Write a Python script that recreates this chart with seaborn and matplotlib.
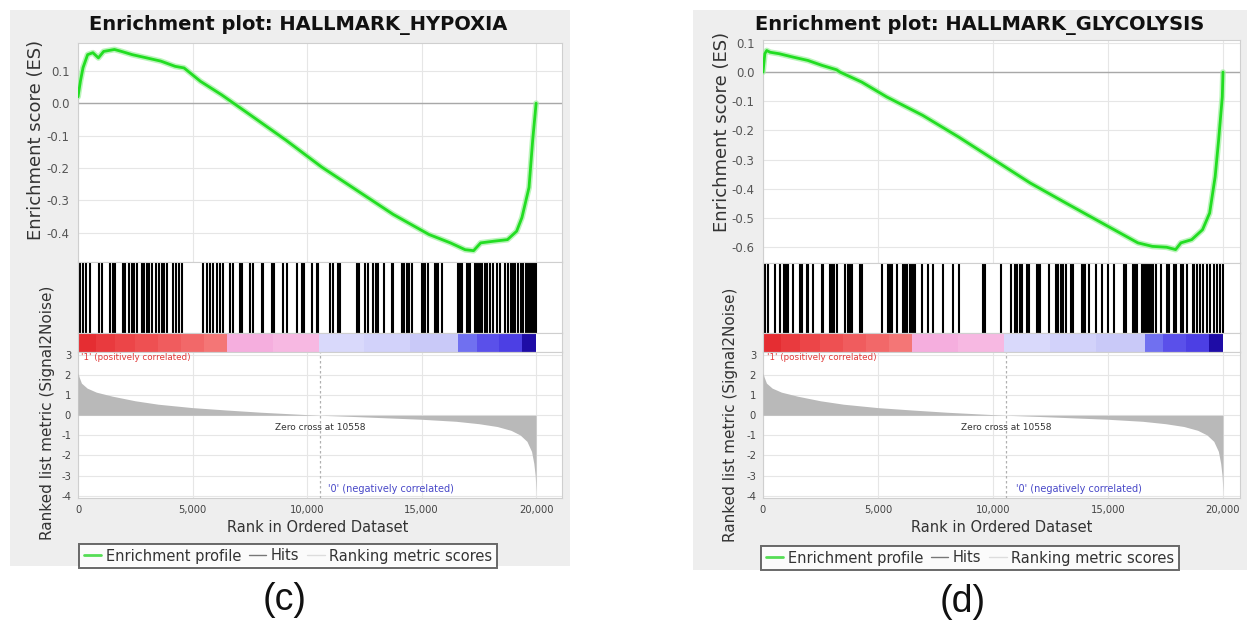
import numpy as np
import pandas as pd
import matplotlib
matplotlib.use("Agg")
import matplotlib.pyplot as plt
import seaborn as sns
from matplotlib.colors import ListedColormap
from matplotlib.lines import Line2D
from matplotlib.patches import Rectangle

# ---------------- data ----------------
titles = ["Enrichment plot: HALLMARK_HYPOXIA", "Enrichment plot: HALLMARK_GLYCOLYSIS"]
panel_tags = ["(c)", "(d)"]

hyp_es_rank = [0, 110, 220, 420, 650, 890, 1120, 1590, 1900, 2370, 3000, 3620, 4240, 4630,
               5340, 6270, 7520, 9080, 10640, 12200, 13760, 15320, 16260, 16900, 17270,
               17580, 18130, 18750, 19150, 19380, 19690, 19850, 20000]
hyp_es = [0.02, 0.07, 0.11, 0.15, 0.156, 0.14, 0.16, 0.166, 0.16, 0.15, 0.14, 0.13, 0.114,
          0.109, 0.068, 0.026, -0.036, -0.114, -0.197, -0.27, -0.343, -0.405, -0.431,
          -0.452, -0.455, -0.431, -0.426, -0.421, -0.395, -0.353, -0.26, -0.114, 0.0]

gly_es_rank = [0, 80, 160, 310, 700, 1330, 1950, 2570, 3200, 3350, 4290, 5380, 6940, 8500,
               10060, 11620, 13180, 14740, 16300, 16930, 17550, 17940, 18170, 18640, 19110,
               19420, 19660, 19810, 19970, 20000]
gly_es = [0.0, 0.063, 0.074, 0.068, 0.063, 0.051, 0.04, 0.023, 0.008, 0.0, -0.034, -0.085,
          -0.148, -0.222, -0.301, -0.38, -0.449, -0.517, -0.585, -0.597, -0.6, -0.608,
          -0.585, -0.574, -0.54, -0.483, -0.358, -0.233, -0.085, 0.0]

hyp_hits = [87, 231, 349, 524, 930, 1035, 1397, 1515, 1616, 1978, 2052, 2240, 2345, 2459,
            2563, 2782, 2882, 3000, 3114, 3218, 3406, 3550, 3655, 3769, 3873, 4162, 4280,
            4397, 4528, 5472, 5620, 5764, 5908, 6057, 6201, 6345, 6638, 6755, 7074, 7148,
            7511, 7629, 8022, 8092, 8458, 8559, 8965, 9114, 9550, 9769, 9882, 10231, 10424,
            10493, 11004, 11148, 11341, 11441, 12170, 12271, 12533, 12651, 12895, 13000,
            13087, 13376, 13699, 13769, 14135, 14249, 14354, 14454, 14572, 15009, 15079,
            15153, 15271, 15590, 15664, 15734, 15882, 16607, 16681, 16755, 16974, 17044,
            17118, 17336, 17410, 17480, 17555, 17629, 17773, 17873, 17991, 18135, 18284,
            18428, 18646, 18790, 18908, 18996, 19083, 19214, 19345, 19432, 19563, 19651,
            19738, 19825, 19913, 19990]

gly_hits = [13, 87, 204, 522, 739, 926, 1000, 1074, 1317, 1609, 1683, 1900, 1970, 2187,
            2552, 2622, 2913, 2987, 3100, 3204, 3565, 3683, 3783, 3857, 4217, 4291, 5161,
            5448, 5522, 5596, 5813, 6100, 6174, 6248, 6391, 6465, 6535, 6609, 6900, 7187,
            7404, 7839, 8274, 8522, 9578, 9665, 10361, 10770, 10957, 11057, 11174, 11248,
            11491, 11578, 11900, 11987, 12043, 12435, 12739, 12839, 12943, 13057, 13174,
            13378, 13465, 13883, 13957, 14000, 14187, 14465, 14752, 15013, 15261, 15696,
            15783, 16074, 16161, 16274, 16465, 16535, 16609, 16683, 16752, 16826, 16900,
            16970, 17074, 17291, 17578, 17665, 17870, 17957, 18161, 18248, 18448, 18683,
            18752, 18870, 19000, 19130, 19304, 19435, 19609, 19739, 19870, 19990]

metric_rank = [0, 50, 150, 400, 800, 1500, 2500, 3500, 5000, 6500, 8000, 9500, 10558, 12000,
               13500, 15000, 16500, 17500, 18300, 18900, 19300, 19600, 19800, 19900, 19960,
               20000]
metric_val = [2.1, 1.9, 1.6, 1.35, 1.15, 0.95, 0.72, 0.55, 0.38, 0.26, 0.15, 0.06, 0.0, -0.06,
              -0.13, -0.2, -0.3, -0.42, -0.56, -0.75, -0.98, -1.3, -1.8, -2.4, -3.0, -3.8]

zero_cross = 10558
cbar_edges = [0, 800, 1600, 2500, 3500, 4500, 5500, 6500, 8500, 10500, 12500, 14500, 16600,
              17400, 18400, 19400, 20000]
cbar_colors = ["#e52d32", "#e93a3e", "#ec4548", "#ee5052", "#f05c5e", "#f26869", "#f47676",
               "#f5aede", "#f7b8e2", "#d9d9fb", "#d2d2fa", "#c9c9f8", "#7070f0", "#5a50ea",
               "#4c3fe4", "#1e0ca6"]

xtick_vals = [0, 5000, 10000, 15000, 20000]
xtick_labels = ["0", "5,000", "10,000", "15,000", "20,000"]
rank_ticks = [3, 2, 1, 0, -1, -2, -3, -4]
hyp_es_ticks = [0.1, 0.0, -0.1, -0.2, -0.3, -0.4]
gly_es_ticks = [0.1, 0.0, -0.1, -0.2, -0.3, -0.4, -0.5, -0.6]

# ---------------- style ----------------
sns.set_style("white")
plt.rcParams["font.family"] = ["DejaVu Sans"]

W, H = 1247, 628
fig = plt.figure(figsize=(W / 100, H / 100), dpi=100)
fig.patch.set_facecolor("white")


def rect(x0, y0, x1, y1):
    return [x0 / W, 1 - y1 / H, (x1 - x0) / W, (y1 - y0) / H]


def fx(x):
    return x / W


def fy(y):
    return 1 - y / H


layouts = [
    dict(bg=(10, 10, 570, 566), x0=78, x1=562, es_top=43, hit_top=262, cb_top=333,
         rk_top=352, rk_bot=498, xmax=21130, es_ylim=(-0.49, 0.186),
         title_x=298, es_lab=(36, 140), rk_lab=(48, 413), xlab=(318, 527),
         leg=(288, 556), tag=(285, 600), pos_x=150, neg_x=13670),
    dict(bg=(693, 10, 1247, 570), x0=763, x1=1240, es_top=40, hit_top=263, cb_top=333,
         rk_top=352, rk_bot=498, xmax=20740, es_ylim=(-0.654, 0.11),
         title_x=980, es_lab=(722, 132), rk_lab=(731, 415), xlab=(1002, 528),
         leg=(970, 558), tag=(963, 602), pos_x=170, neg_x=13740),
]

es_data = [(hyp_es_rank, hyp_es, hyp_es_ticks), (gly_es_rank, gly_es, gly_es_ticks)]
hits_data = [hyp_hits, gly_hits]
grid_c = "#e6e6e6"
spine_c = "#cfcfcf"

for i, L in enumerate(layouts):
    # gray panel background
    bx0, by0, bx1, by1 = L["bg"]
    fig.patches.append(Rectangle((fx(bx0), fy(by1)), (bx1 - bx0) / W, (by1 - by0) / H,
                                 transform=fig.transFigure, facecolor="#eeeeee",
                                 edgecolor="none", zorder=-5))

    ranks, es, es_ticks = es_data[i]
    # ---- ES axes ----
    ax = fig.add_axes(rect(L["x0"], L["es_top"], L["x1"], L["hit_top"]))
    ax.set_facecolor("white")
    df = pd.DataFrame({"rank": ranks, "es": es})
    sns.lineplot(data=df, x="rank", y="es", ax=ax, color="#9ef09e", lw=4.2, alpha=0.7,
                 zorder=3)
    sns.lineplot(data=df, x="rank", y="es", ax=ax, color="#22dd22", lw=2.0, zorder=4)
    ax.axhline(0, color="#a8a8a8", lw=1.0, zorder=2)
    ax.set_xlim(0, L["xmax"])
    ax.set_ylim(*L["es_ylim"])
    ax.set_xticks(xtick_vals)
    ax.set_yticks(es_ticks)
    ax.set_yticklabels([f"{v:.1f}" for v in es_ticks])
    ax.grid(True, color=grid_c, lw=0.8)
    ax.tick_params(axis="x", labelbottom=False, length=0)
    ax.tick_params(axis="y", labelsize=8.5, labelcolor="#555555", length=2, color="#999999",
                   pad=4)
    ax.set_xlabel("")
    ax.set_ylabel("")
    for s in ax.spines.values():
        s.set_color(spine_c)
        s.set_linewidth(0.8)

    # ---- hits axes ----
    axh = fig.add_axes(rect(L["x0"], L["hit_top"], L["x1"], L["cb_top"]))
    axh.set_facecolor("white")
    axh.vlines(hits_data[i], 0, 1, color="black", lw=1.5)
    axh.set_xlim(0, L["xmax"])
    axh.set_ylim(0, 1)
    axh.set_xticks([])
    axh.set_yticks([])
    for s in axh.spines.values():
        s.set_color(spine_c)
        s.set_linewidth(0.8)

    # ---- colour bar axes ----
    axc = fig.add_axes(rect(L["x0"], L["cb_top"], L["x1"], L["rk_top"]))
    axc.set_facecolor("white")
    cmap = ListedColormap(cbar_colors)
    axc.pcolormesh(cbar_edges, [0, 1], np.arange(len(cbar_colors))[None, :], cmap=cmap,
                   vmin=-0.5, vmax=len(cbar_colors) - 0.5, shading="flat")
    axc.set_xlim(0, L["xmax"])
    axc.set_ylim(0, 1)
    axc.set_xticks([])
    axc.set_yticks([])
    for s in axc.spines.values():
        s.set_color(spine_c)
        s.set_linewidth(0.8)

    # ---- ranked metric axes ----
    axr = fig.add_axes(rect(L["x0"], L["rk_top"], L["x1"], L["rk_bot"]))
    axr.set_facecolor("white")
    axr.fill_between(metric_rank, 0, metric_val, color="#b9b9b9", lw=0, zorder=3)
    axr.axvline(zero_cross, color="#b0b0b0", lw=0.9, ls=(0, (2, 2)), zorder=2)
    axr.set_xlim(0, L["xmax"])
    axr.set_ylim(-4.12, 3.15)
    axr.set_xticks(xtick_vals)
    axr.set_xticklabels(xtick_labels)
    axr.set_yticks(rank_ticks)
    axr.set_yticklabels([str(v) for v in rank_ticks])
    axr.grid(True, color=grid_c, lw=0.8)
    axr.tick_params(axis="both", labelsize=7.2, labelcolor="#444444", length=2,
                    color="#999999", pad=3)
    for s in axr.spines.values():
        s.set_color(spine_c)
        s.set_linewidth(0.8)
    axr.text(L["pos_x"], 2.87, "'1' (positively correlated)", color="#e03a3a",
             fontsize=6.3, ha="left", va="center", zorder=5)
    axr.text(zero_cross, -0.6, f"Zero cross at {zero_cross}", color="#333333",
             fontsize=6.5, ha="center", va="center", zorder=5)
    axr.text(L["neg_x"], -3.65, "'0' (negatively correlated)", color="#4848c8",
             fontsize=7, ha="center", va="center", zorder=5)

    # ---- labels ----
    fig.text(fx(L["title_x"]), fy(25), titles[i], fontsize=14, fontweight="bold",
             ha="center", va="center", color="#111111")
    fig.text(fx(L["es_lab"][0]), fy(L["es_lab"][1]), "Enrichment score (ES)", fontsize=13,
             rotation=90, ha="center", va="center", color="#333333")
    fig.text(fx(L["rk_lab"][0]), fy(L["rk_lab"][1]), "Ranked list metric (Signal2Noise)",
             fontsize=11, rotation=90, ha="center", va="center", color="#333333")
    fig.text(fx(L["xlab"][0]), fy(L["xlab"][1]), "Rank in Ordered Dataset", fontsize=10.5,
             ha="center", va="center", color="#333333")

    handles = [Line2D([], [], color="#55dd55", lw=2),
               Line2D([], [], color="#777777", lw=1),
               Line2D([], [], color="#dddddd", lw=1)]
    leg = fig.legend(handles, ["Enrichment profile", "Hits", "Ranking metric scores"],
                     loc="center", bbox_to_anchor=(fx(L["leg"][0]), fy(L["leg"][1])),
                     ncol=3, fontsize=10.5, frameon=True, fancybox=False,
                     edgecolor="#444444", handlelength=1.2, handletextpad=0.3,
                     columnspacing=0.55, borderpad=0.3, borderaxespad=0)
    leg.get_frame().set_linewidth(1.4)
    for t in leg.get_texts():
        t.set_color("#333333")

    fig.text(fx(L["tag"][0]), fy(L["tag"][1]), panel_tags[i], fontsize=27,
             family=["Liberation Sans", "DejaVu Sans"], ha="center", va="center",
             color="#111111")

fig.savefig("out.png", dpi=100, facecolor="white")
